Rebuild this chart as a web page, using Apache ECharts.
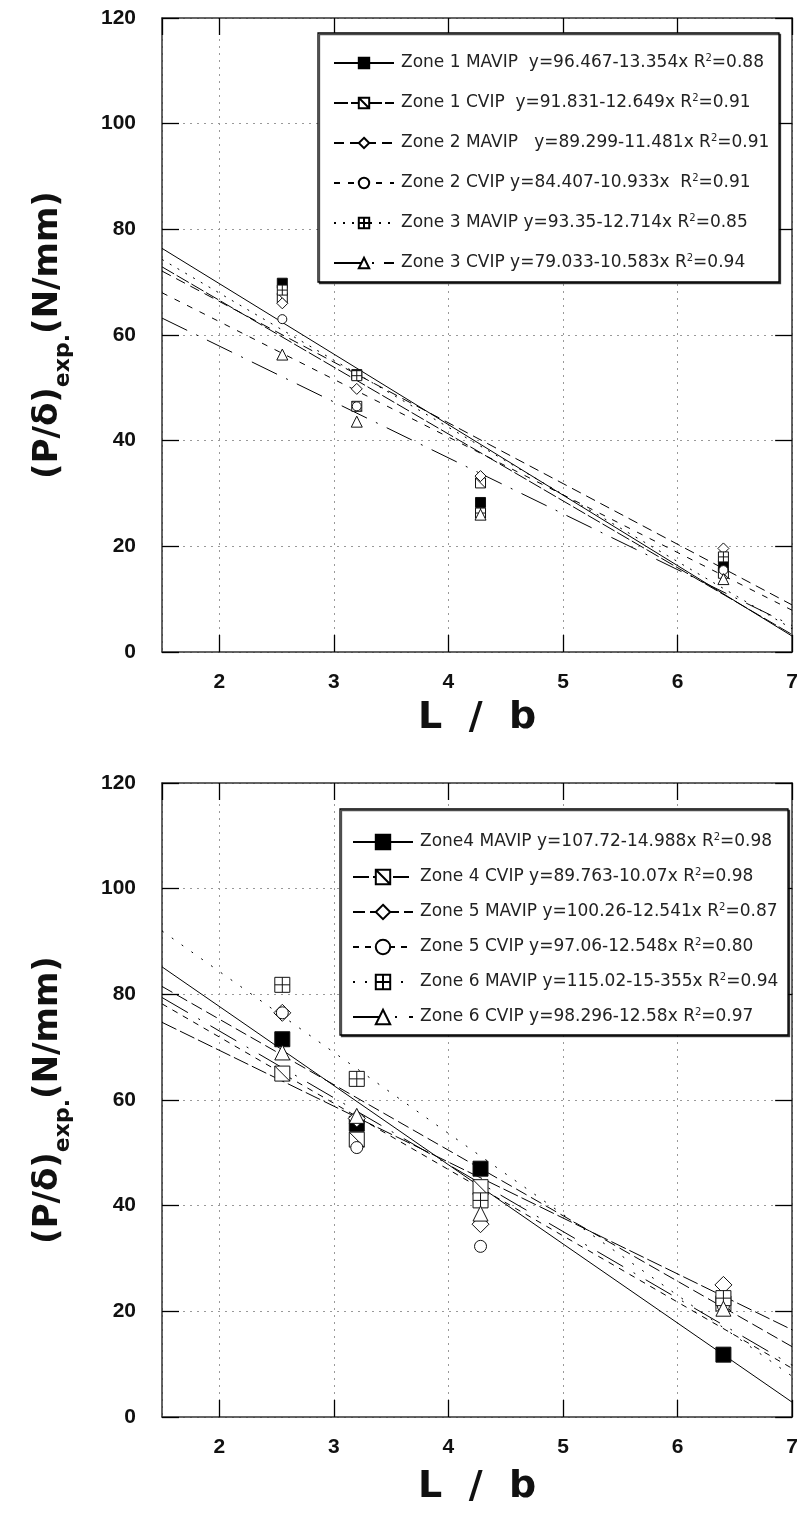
<!DOCTYPE html>
<html><head><meta charset="utf-8">
<script src="https://cdn.jsdelivr.net/npm/echarts@6/dist/echarts.min.js"></script>
<style>html,body{margin:0;padding:0;background:#fff}#c{width:801px;height:1528px}</style>
</head><body><div id="c"></div>
<script>
// ---------- DATA ----------
const ratioX = [2.55, 3.2, 4.28, 6.4];          // L/b positions of the test points
const fitX = [1.5, 7];                          // x extent of the fitted lines

// Top panel (zones 1-3)
const topNames = ['Zone 1 MAVIP', 'Zone 1 CVIP', 'Zone 2 MAVIP', 'Zone 2 CVIP', 'Zone 3 MAVIP', 'Zone 3 CVIP'];
const topEqs   = ['  y=96.467-13.354x', '  y=91.831-12.649x', '   y=89.299-11.481x', ' y=84.407-10.933x ', ' y=93.35-12.714x', ' y=79.033-10.583x'];
const topR2    = ['0.88', '0.91', '0.91', '0.91', '0.85', '0.94'];
const z1Mavip = [69.8, 52.5, 28.3, 16.3];
const z1Cvip  = [67.0, 46.5, 32.0, 14.9];
const z2Mavip = [66.0, 49.8, 33.3, 19.6];
const z2Cvip  = [63.0, 46.5, 26.5, 15.5];
const z3Mavip = [68.5, 52.3, 26.3, 18.0];
const z3Cvip  = [56.3, 43.6, 26.0, 13.8];
const topFitLeft  = [76.4, 72.9, 72.1, 68.0, 74.3, 63.2];   // fitted line value at L/b = 1.5
const topFitRight = [3.0, 3.3, 8.9, 7.9, 4.4, 5.0];         // fitted line value at L/b = 7

// Bottom panel (zones 4-6)
const botNames = ['Zone4 MAVIP', 'Zone 4 CVIP', 'Zone 5 MAVIP', 'Zone 5 CVIP', 'Zone 6 MAVIP', 'Zone 6 CVIP'];
const botEqs   = [' y=107.72-14.988x', ' y=89.763-10.07x', ' y=100.26-12.541x', ' y=97.06-12.548x', ' y=115.02-15-355x', ' y=98.296-12.58x'];
const botR2    = ['0.98', '0.98', '0.87', '0.80', '0.94', '0.97'];
const z4Mavip = [71.5, 55.5, 47.0, 11.8];
const z4Cvip  = [65.0, 52.5, 43.5, 21.5];
const z5Mavip = [76.5, 56.5, 36.5, 25.0];
const z5Cvip  = [76.5, 51.0, 32.3, 21.0];
const z6Mavip = [81.8, 64.0, 41.0, 22.5];
const z6Cvip  = [69.0, 57.0, 38.5, 20.5];
const botFitLeft  = [85.2, 74.7, 81.5, 78.2, 92.0, 79.4];
const botFitRight = [2.8, 16.5, 13.3, 9.2, 7.7, 9.8];

// ---------- STYLES ----------
const SQ_DIAG  = 'path://M0,0H10V10H0Z M0,0L10,10';
const SQ_CROSS = 'path://M0,0H10V10H0Z M5,0V10 M0,5H10';
const symbols = ['rect', SQ_DIAG, 'diamond', 'circle', SQ_CROSS, 'triangle'];
const fills   = ['#000', '#fff', '#fff', '#fff', '#fff', '#fff'];
const topSizes = [10, 10, 11, 9, 10, 11];
const botSizes = [15, 15, 17, 12, 15, 15];
const topDash = ['solid', [14, 3], [10, 6], [6, 8], [2, 7], [28, 10, 2, 10]];
const botDash = ['solid', [16, 4], [12, 5], [6, 6], [2, 10], [30, 12, 2, 12]];

const topVals = [z1Mavip, z1Cvip, z2Mavip, z2Cvip, z3Mavip, z3Cvip];
const botVals = [z4Mavip, z4Cvip, z5Mavip, z5Cvip, z6Mavip, z6Cvip];

const FONT = 'Liberation Sans';
const LFONT = 'DejaVu Sans';

function makeSeries(names, vals, fitL, fitR, dash, gi, sizes) {
  const out = [];
  names.forEach((n, i) => {
    out.push({
      name: n, type: 'line', xAxisIndex: gi, yAxisIndex: gi,
      data: [[fitX[0], fitL[i]], [fitX[1], fitR[i]]],
      showSymbol: false, symbol: symbols[i], symbolSize: sizes[i],
      itemStyle: { color: fills[i], borderColor: '#000', borderWidth: 1 },
      lineStyle: { color: '#000', width: 1, type: dash[i] },
      silent: true, z: 2
    });
    out.push({
      name: n + ' pts', type: 'scatter', xAxisIndex: gi, yAxisIndex: gi,
      data: ratioX.map((x, k) => [x, vals[i][k]]),
      symbol: symbols[i], symbolSize: sizes[i],
      itemStyle: { color: fills[i], borderColor: '#111', borderWidth: 1, opacity: 1 },
      silent: true, z: 3
    });
  });
  return out;
}

function xAx(gi, pos, main) {
  return {
    type: 'value', gridIndex: gi, position: pos, min: 1.5, max: 7, splitNumber: 5,
    axisLine: { show: true, onZero: false, lineStyle: { color: '#333', width: 1.5 } },
    axisTick: { show: true, inside: true, length: 17, lineStyle: { color: '#000', width: 1.3 } },
    axisLabel: main ? { show: true, showMinLabel: false, margin: 20, fontFamily: FONT, fontWeight: 'bold', fontSize: 21, color: '#111' } : { show: false },
    splitLine: main ? { show: true, lineStyle: { color: '#999', type: [2, 5], width: 1 } } : { show: false },
    name: main ? 'L  /  b' : '', nameLocation: 'middle', nameGap: gi === 0 ? 47 : 51,
    nameTextStyle: { fontFamily: LFONT, fontWeight: 'bold', fontSize: 38, color: '#111' }
  };
}
function yAx(gi, pos, main) {
  return {
    type: 'value', gridIndex: gi, position: pos, min: 0, max: 120, interval: 20,
    axisLine: { show: true, onZero: false, lineStyle: { color: '#333', width: 1.5 } },
    axisTick: { show: true, inside: true, length: 17, lineStyle: { color: '#000', width: 1.3 } },
    axisLabel: main ? { show: true, margin: 26, fontFamily: FONT, fontWeight: 'bold', fontSize: 21, color: '#111' } : { show: false },
    splitLine: main ? { show: true, lineStyle: { color: '#999', type: [2, 5], width: 1 } } : { show: false },
    name: main ? '{m|(P/δ)}{s|exp.}{m|(N/mm)}' : '', nameLocation: 'middle', nameGap: 94,
    nameTextStyle: {
      fontFamily: LFONT, fontWeight: 'bold', color: '#111',
      rich: {
        m: { fontFamily: LFONT, fontWeight: 'bold', fontSize: 34, lineHeight: 37, verticalAlign: 'top', color: '#111' },
        s: { fontFamily: LFONT, fontWeight: 'bold', fontSize: 22, lineHeight: 22, padding: [28, 0, 0, 0], color: '#111' }
      }
    }
  };
}

function legendFor(names, eqs, r2, left, top, gap, ih) {
  const map = {};
  names.forEach((n, i) => { map[n] = n + eqs[i] + ' R{sup|2}=' + r2[i]; });
  return {
    data: names, orient: 'vertical', left: left, top: top, itemGap: gap,
    itemWidth: 60, itemHeight: ih, padding: 0, selectedMode: false, z: 20,
    formatter: (name) => map[name],
    textStyle: {
      fontFamily: LFONT, fontSize: 17, color: '#222', lineHeight: 20, padding: [0, 0, 0, 2],
      rich: { sup: { fontFamily: LFONT, fontSize: 10, lineHeight: 10, verticalAlign: 'top', color: '#222' } }
    }
  };
}

const chart = echarts.init(document.getElementById('c'), null, { renderer: 'canvas' });
chart.setOption({
  animation: false,
  backgroundColor: '#fff',
  grid: [
    { left: 162, top: 18, width: 632, height: 634 },
    { left: 162, top: 783, width: 632, height: 634 }
  ],
  xAxis: [xAx(0, 'bottom', true), xAx(1, 'bottom', true), xAx(0, 'top', false), xAx(1, 'top', false)],
  yAxis: [yAx(0, 'left', true), yAx(1, 'left', true), yAx(0, 'right', false), yAx(1, 'right', false)],
  legend: [
    legendFor(topNames, topEqs, topR2, 333, 53, 20, 13),
    legendFor(botNames, botEqs, botR2, 352, 832, 15, 18)
  ],
  graphic: [
    { type: 'rect', z: 10, shape: { x: 318, y: 33, width: 461, height: 249 },
      style: { fill: '#fff', stroke: '#000', lineWidth: 1.3, shadowColor: 'rgba(0,0,0,0.7)', shadowOffsetX: 1.5, shadowOffsetY: 1.5, shadowBlur: 0 } },
    { type: 'rect', z: 10, shape: { x: 340, y: 809, width: 448, height: 226 },
      style: { fill: '#fff', stroke: '#000', lineWidth: 1.3, shadowColor: 'rgba(0,0,0,0.7)', shadowOffsetX: 1.5, shadowOffsetY: 1.5, shadowBlur: 0 } }
  ],
  series: [].concat(
    makeSeries(topNames, topVals, topFitLeft, topFitRight, topDash, 0, topSizes),
    makeSeries(botNames, botVals, botFitLeft, botFitRight, botDash, 1, botSizes)
  )
});
</script>
</body></html>
